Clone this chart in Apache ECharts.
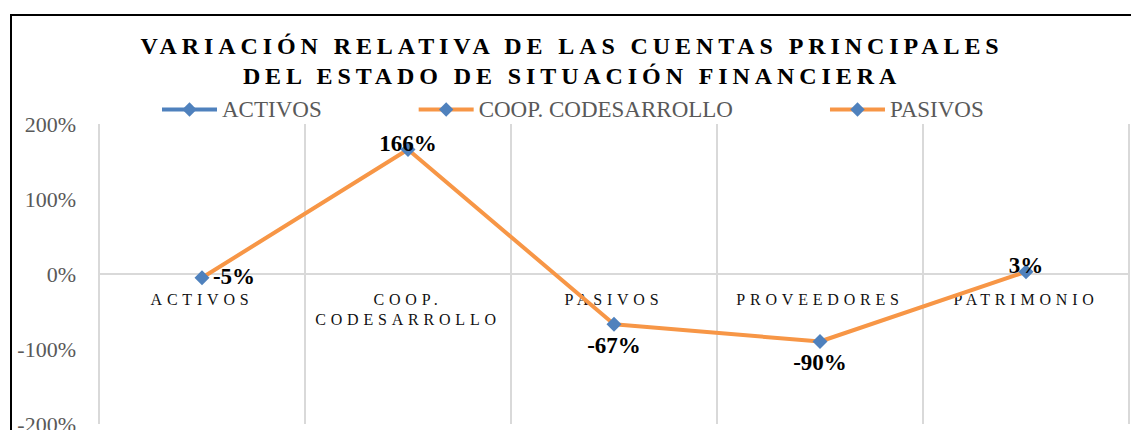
<!DOCTYPE html>
<html>
<head>
<meta charset="utf-8">
<script src="https://cdn.jsdelivr.net/npm/echarts@6/dist/echarts.min.js"></script>
<style>
  html, body { margin: 0; padding: 0; background: #fff; }
  #chart { width: 1131px; height: 430px; }
  /* letter-spaced title (24px) and category labels (16px) */
  #chart text[style*="24px"] { letter-spacing: 4.9px; }
  #chart text[style*="16px"] { letter-spacing: 4.8px; }
</style>
</head>
<body>
<div id="chart"></div>
<script>
// ---- data ----
const titleLines = ['VARIACIÓN RELATIVA DE LAS CUENTAS PRINCIPALES', 'DEL ESTADO DE SITUACIÓN FINANCIERA'];
const categories = ['ACTIVOS', 'COOP. CODESARROLLO', 'PASIVOS', 'PROVEEDORES', 'PATRIMONIO'];
const variation = [-5, 166, -67, -90, 3];              // percent
const legendNames = ['ACTIVOS', 'COOP. CODESARROLLO', 'PASIVOS'];
const yTicks = [-200, -100, 0, 100, 200];

// ---- styles ----
const BLUE = '#4F81BD';
const ORANGE = '#F79646';
const SERIF = "'Liberation Serif', 'Times New Roman', serif";
const labelPlacement = [
  { offset: [32, -1] },
  { offset: [0, -6] },
  { offset: [0, 21] },
  { offset: [0, 21] },
  { offset: [0, -6] }
];
const legendLineColors = [BLUE, ORANGE, ORANGE];

const GRID = { left: 99, right: 2, top: 124, bottom: 6 };
const H = 430;
const yMin = yTicks[0], yMax = yTicks[yTicks.length - 1];
// distance from the grid bottom up to the zero line (category axis sits on 0)
const plotH = H - GRID.top - GRID.bottom;
const zeroLift = plotH * (0 - yMin) / (yMax - yMin);

const chart = echarts.init(document.getElementById('chart'), null, { renderer: 'svg' });

const seriesData = variation.map((v, i) => ({
  value: v,
  label: { position: 'inside', offset: labelPlacement[i].offset }
}));

const legendSeries = legendNames.map((n, i) => ({
  name: n,
  type: 'line',
  data: [],
  symbol: 'diamond',
  symbolSize: 15,
  itemStyle: { color: BLUE },
  lineStyle: { color: legendLineColors[i], width: 4 }
}));

chart.setOption({
  animation: false,
  backgroundColor: '#fff',
  graphic: [{
    type: 'rect',
    silent: true,
    z: -10,
    shape: { x: 11, y: 15, width: 1300, height: 700 },
    style: { fill: 'none', stroke: '#000', lineWidth: 2 }
  }],
  title: {
    text: titleLines.join('\n'),
    left: 572,
    top: 31,
    padding: 0,
    textAlign: 'center',
    textStyle: {
      fontFamily: SERIF,
      fontWeight: 'bold',
      fontSize: 24,
      lineHeight: 30,
      color: '#000'
    }
  },
  legend: {
    data: legendNames,
    left: 160,
    top: 98,
    padding: 0,
    itemWidth: 55,
    itemHeight: 18,
    itemGap: 95,
    selectedMode: false,
    lineStyle: { width: 4 },
    textStyle: { fontFamily: SERIF, fontSize: 23, color: '#595959' }
  },
  grid: Object.assign({ containLabel: false, outerBoundsMode: 'none' }, GRID),
  xAxis: [{
    type: 'category',
    data: categories,
    boundaryGap: true,
    axisLine: { show: false },
    axisTick: { show: false },
    axisLabel: { show: false },
    splitLine: { show: true, lineStyle: { color: '#D9D9D9', width: 2 } }
  }, {
    type: 'category',
    data: categories,
    position: 'bottom',
    offset: -zeroLift,
    boundaryGap: true,
    axisLine: { show: true, onZero: false, lineStyle: { color: '#D9D9D9', width: 2 } },
    axisTick: { show: false },
    splitLine: { show: false },
    axisLabel: {
      interval: 0,
      margin: 15,
      fontFamily: SERIF,
      fontSize: 16,
      lineHeight: 20,
      color: '#111',
      formatter: v => v.replace(' ', '\n')
    }
  }],
  yAxis: {
    type: 'value',
    min: yMin,
    max: yMax,
    interval: 100,
    axisLine: { show: false },
    axisTick: { show: false },
    splitLine: { show: false },
    axisLabel: {
      margin: 23,
      fontFamily: SERIF,
      fontSize: 22,
      color: '#595959',
      formatter: '{value}%'
    }
  },
  series: legendSeries.concat([{
    name: 'Variación relativa',
    type: 'line',
    xAxisIndex: 0,
    data: seriesData,
    symbol: 'diamond',
    symbolSize: 15,
    showAllSymbol: true,
    itemStyle: { color: BLUE },
    lineStyle: { color: ORANGE, width: 4 },
    label: {
      show: true,
      fontFamily: SERIF,
      fontWeight: 'bold',
      fontSize: 23,
      lineHeight: 16,
      color: '#000',
      formatter: p => p.value + '%'
    },
    z: 5
  }])
});
</script>
</body>
</html>
